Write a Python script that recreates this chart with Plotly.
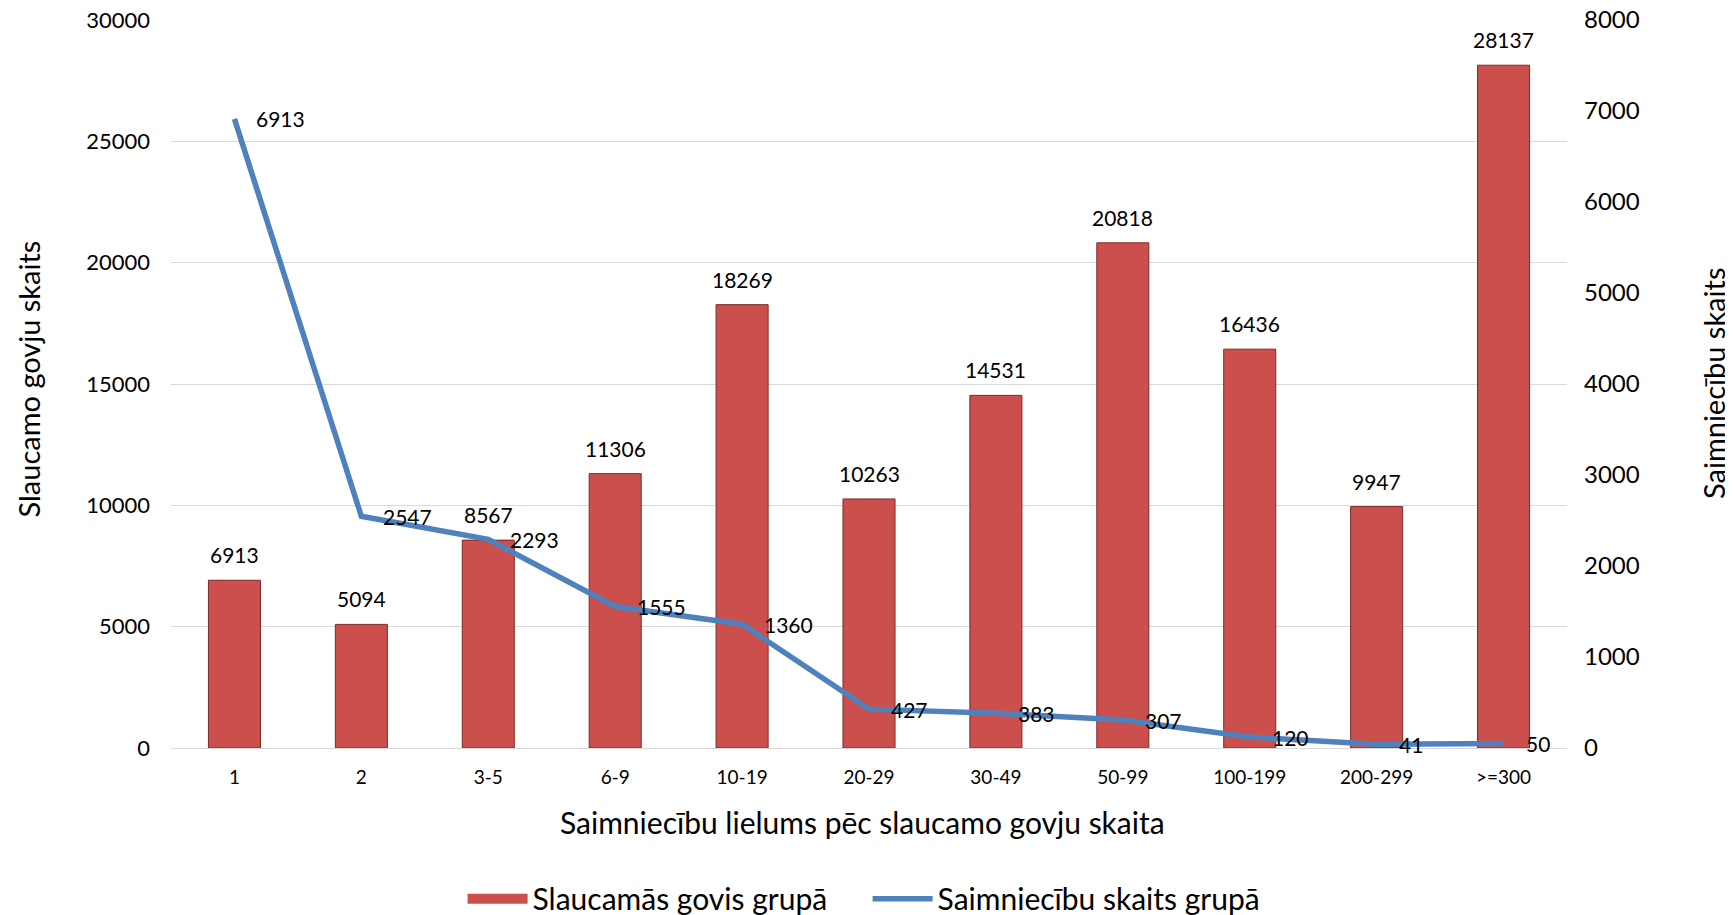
import plotly.graph_objects as go

# farm size groups (number of dairy cows)
categories = ["1", "2", "3-5", "6-9", "10-19", "20-29", "30-49", "50-99", "100-199", "200-299", ">=300"]
cows = [6913, 5094, 8567, 11306, 18269, 10263, 14531, 20818, 16436, 9947, 28137]
farms = [6913, 2547, 2293, 1555, 1360, 427, 383, 307, 120, 41, 50]

font_family = "Lato, 'Open Sans', sans-serif"
bar_color = "#CB4F4C"

fig = go.Figure()

fig.add_trace(go.Bar(
    x=categories, y=cows, name="Slaucamās govis grupā", showlegend=False,
    marker=dict(color=bar_color, line=dict(color="#7E2A28", width=1)),
    width=0.41,
))
# legend entry drawn as a wide red block, like the original
fig.add_trace(go.Scatter(
    x=[None], y=[None], name="Slaucamās govis grupā", mode="lines",
    line=dict(color=bar_color, width=16),
))

fig.add_trace(go.Scatter(
    x=categories, y=farms, name="Saimniecību skaits grupā", yaxis="y2",
    mode="lines", line=dict(color="#4F81BD", width=5.5),
))

# data labels (x given as category index, since "1"/"2" would be read as positions)
annotations = []
for i, v in enumerate(cows):
    annotations.append(dict(x=i, y=v, xref="x", yref="y", text=str(v), showarrow=False,
                            xanchor="center", yanchor="bottom", yshift=11,
                            font=dict(size=21, color="black")))
for i, v in enumerate(farms):
    annotations.append(dict(x=i, y=v, xref="x", yref="y2", text=str(v), showarrow=False,
                            xanchor="left", yanchor="middle", xshift=20,
                            font=dict(size=21, color="black")))

# axis titles
annotations += [
    dict(x=-0.1020, y=0.507, xref="paper", yref="paper", text="Slaucamo govju skaits",
         textangle=-90, showarrow=False, xanchor="center", yanchor="middle",
         font=dict(size=29)),
    dict(x=1.1046, y=0.50, xref="paper", yref="paper", text="Saimniecību skaits",
         textangle=-90, showarrow=False, xanchor="center", yanchor="middle",
         font=dict(size=29)),
    dict(x=0.4957, y=-0.1016, xref="paper", yref="paper",
         text="Saimniecību lielums pēc slaucamo govju skaita",
         showarrow=False, xanchor="center", yanchor="middle", font=dict(size=30)),
]

fig.update_layout(
    width=1725, height=907,
    margin=dict(l=163, r=166, t=12, b=167, autoexpand=False),
    paper_bgcolor="white", plot_bgcolor="white",
    font=dict(family=font_family, size=20, color="black"),
    xaxis=dict(
        showgrid=False, showline=True, linecolor="#D9D9D9", linewidth=1,
        tickfont=dict(size=19), ticks="", ticklabelstandoff=12, automargin=False,
    ),
    yaxis=dict(
        range=[0, 30000], dtick=5000, tickformat="d", showgrid=True, gridcolor="#D9D9D9",
        zeroline=False, tickfont=dict(size=22), ticks="", ticklabelstandoff=20,
        automargin=False, ticklabeloverflow="allow",
    ),
    yaxis2=dict(
        range=[0, 8000], dtick=1000, tickformat="d", overlaying="y", side="right",
        showgrid=False, zeroline=False, tickfont=dict(size=24), ticks="",
        ticklabelstandoff=16, automargin=False, ticklabeloverflow="allow",
    ),
    legend=dict(
        orientation="h", x=0.499, xanchor="center", y=-0.207, yanchor="middle",
        font=dict(size=30), itemwidth=60, entrywidth=330, entrywidthmode="pixels",
    ),
    annotations=annotations,
)

fig.write_html("out.html")
